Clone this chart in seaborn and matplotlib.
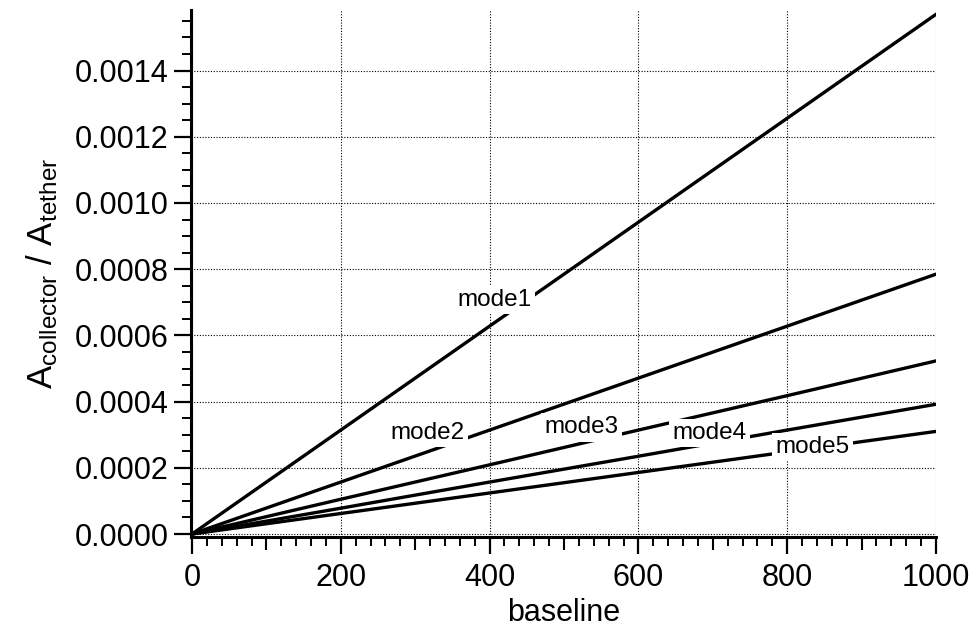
import numpy as np
import pandas as pd
import matplotlib
matplotlib.use("Agg")
import matplotlib.pyplot as plt
import seaborn as sns

baseline = [0, 200, 400, 600, 800, 1000]
mode1 = [0.0, 0.000314, 0.000628, 0.000942, 0.001256, 0.001570]
mode2 = [0.0, 0.000157, 0.000314, 0.000471, 0.000628, 0.000785]
mode3 = [0.0, 0.000105, 0.000209, 0.000314, 0.000418, 0.000523]
mode4 = [0.0, 0.000078, 0.000157, 0.000235, 0.000314, 0.000392]
mode5 = [0.0, 0.000062, 0.000124, 0.000186, 0.000248, 0.000310]
mode_names = ["mode1", "mode2", "mode3", "mode4", "mode5"]
label_x = [406, 317, 524, 696, 834]
label_y = [0.000707, 0.000305, 0.000323, 0.000305, 0.000263]
xticks = [0, 200, 400, 600, 800, 1000]
yticks = [0.0, 0.0002, 0.0004, 0.0006, 0.0008, 0.0010, 0.0012, 0.0014]

series = [mode1, mode2, mode3, mode4, mode5]
df = pd.concat([pd.DataFrame({"baseline": baseline, "ratio": s, "mode": n})
                for s, n in zip(series, mode_names)], ignore_index=True)

sns.set_theme(style="white")
plt.rcParams['font.family'] = ['Liberation Sans', 'DejaVu Sans']
plt.rcParams['mathtext.fontset'] = 'custom'
plt.rcParams['mathtext.rm'] = 'Liberation Sans'
plt.rcParams['mathtext.it'] = 'Liberation Sans'
plt.rcParams['text.color'] = 'black'
plt.rcParams['axes.labelcolor'] = 'black'
plt.rcParams['xtick.color'] = 'black'
plt.rcParams['ytick.color'] = 'black'

fig = plt.figure(figsize=(9.76, 6.36), dpi=100)
ax = fig.add_axes([190.5 / 976, 1 - 537 / 636, (936 - 190.5) / 976, (537 - 10) / 636])

sns.lineplot(data=df, x="baseline", y="ratio", hue="mode",
             palette=["black"] * 5, legend=False, linewidth=2.4, ax=ax,
             zorder=3)

for name, lx, ly in zip(mode_names, label_x, label_y):
    ax.text(lx, ly, name, fontsize=17.5, ha="center", va="center", zorder=5,
            color="black",
            bbox=dict(facecolor="white", edgecolor="none", pad=2.5))

ax.set_xlim(-2, 1000)
ax.set_ylim(-0.000009, 0.001583)
ax.set_xticks(xticks)
ax.set_xticklabels([str(v) for v in xticks])
ax.set_yticks(yticks)
ax.set_yticklabels([f"{v:.4f}" for v in yticks])
ax.set_xticks(np.arange(0, 1001, 20), minor=True)
ax.set_yticks(np.arange(0, 0.00158, 0.00005), minor=True)

ax.grid(True, which="major", color="black", linestyle=(0, (1, 1.5)), linewidth=0.8)
ax.set_axisbelow(True)

for s in ["top", "right"]:
    ax.spines[s].set_visible(False)
for s in ["left", "bottom"]:
    ax.spines[s].set_linewidth(2.2)
    ax.spines[s].set_color("black")

ax.tick_params(axis="both", which="both", bottom=True, left=True, top=False, right=False)
ax.tick_params(axis="both", which="major", direction="out", length=12,
               width=1.6, color="black", labelsize=22, labelcolor="black")
ax.tick_params(axis="both", which="minor", direction="out", length=6.5,
               width=1.4, color="black")
ax.tick_params(axis="x", which="major", pad=7)
ax.tick_params(axis="y", which="major", pad=4)

sec = ax.secondary_xaxis("bottom")
sec.set_xticks([100, 300, 500, 700, 900])
sec.tick_params(length=9, width=1.5, direction="out", bottom=True,
                labelbottom=False, color="black")
sec.spines["bottom"].set_visible(False)

ax.set_xlabel("baseline", fontsize=22, labelpad=3)
ax.set_ylabel(r"$\mathrm{A_{collector}\ /\ A_{tether}}$", fontsize=25, labelpad=10)

fig.savefig("out.png", dpi=100)
